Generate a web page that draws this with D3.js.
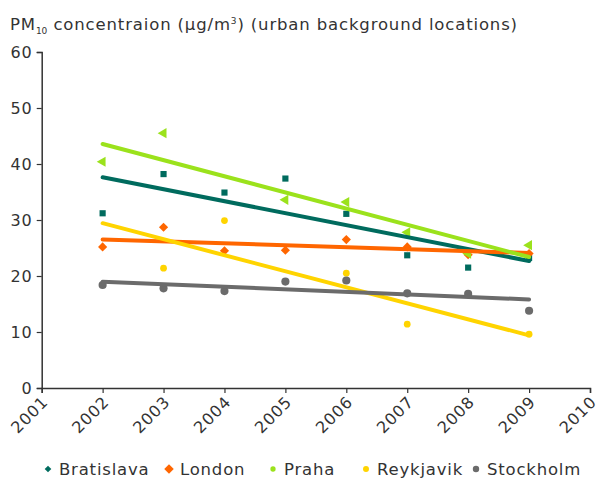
<!DOCTYPE html>
<html>
<head>
<meta charset="utf-8">
<script src="https://cdn.jsdelivr.net/npm/d3@7"></script>
<style>
  body { margin: 0; background: #fff; }
  text { font-family: "DejaVu Sans", Verdana, sans-serif; fill: #333; letter-spacing: 0.9px; }
</style>
</head>
<body>
<script>
// data (null = no value plotted)
const years = [2002, 2003, 2004, 2005, 2006, 2007, 2008, 2009];
const axisYears = [2001, 2002, 2003, 2004, 2005, 2006, 2007, 2008, 2009, 2010];
const yTicks = [0, 10, 20, 30, 40, 50, 60];
const cities = ["Bratislava", "London", "Praha", "Reykjavik", "Stockholm"];
const bratislava = [31.2, 38.2, 34.9, 37.4, 31.1, 23.7, 21.5, 23.2];
const london = [25.2, 28.7, 24.5, 24.6, 26.5, 25.2, 23.8, 24.0];
const praha = [40.4, 45.5, null, 33.6, 33.2, 27.8, 24.0, 25.5];
const reykjavik = [null, 21.4, 29.9, null, 20.5, 11.4, null, 9.6];
const stockholm = [18.4, 17.8, 17.3, 19.0, 19.2, 16.9, 16.8, 13.8];
const colors = ["#006b5e", "#ff6600", "#9be21c", "#ffd400", "#6b6b6b"];

const seriesValues = [bratislava, london, praha, reykjavik, stockholm];

const width = 599;
const height = 482;

const svg = d3.select("body").append("svg")
  .attr("width", width)
  .attr("height", height);

const x = d3.scaleLinear().domain([2001, 2010]).range([41.7, 590]);
const y = d3.scaleLinear().domain([0, 60]).range([388, 52]);

// title
const title = svg.append("text").attr("x", 10).attr("y", 30)
  .style("font-size", "16.5px").style("letter-spacing", "0.85px");
title.append("tspan").text("PM");
title.append("tspan").attr("dy", 4).style("font-size", "9px").style("letter-spacing", "0px").text("10");
title.append("tspan").attr("dy", -4).text(" concentraion (µg/m");
title.append("tspan").attr("dy", -6).style("font-size", "9px").text("3");
title.append("tspan").attr("dy", 6).text(") (urban background locations)");

// axes
const yAxis = svg.append("g")
  .attr("transform", `translate(${x(2001)},0)`)
  .call(d3.axisLeft(y).tickValues(yTicks).tickSize(5).tickPadding(4));

const xAxis = svg.append("g")
  .attr("transform", `translate(0,${y(0)})`)
  .call(d3.axisBottom(x).tickValues(axisYears).tickFormat(d3.format("d")).tickSize(5));

[yAxis, xAxis].forEach(g => {
  g.select(".domain").attr("stroke", "#333").attr("stroke-width", 1.5);
  g.selectAll(".tick line").attr("stroke", "#333").attr("stroke-width", 1.2);
  g.selectAll("text").style("font-size", "16px").attr("fill", "#333")
    .style("font-family", "'DejaVu Sans', Verdana, sans-serif");
});

xAxis.selectAll(".tick text")
  .attr("text-anchor", "end")
  .attr("dy", null)
  .attr("y", null)
  .attr("transform", "translate(7,15) rotate(-45)");

// markers
const shapes = [
  { type: d3.symbolSquare, size: 38, rot: 0 },
  { type: d3.symbolSquare, size: 42, rot: 45 },
  { type: d3.symbolTriangle, size: 45, rot: -90 },
  { type: d3.symbolCircle, size: 36, rot: 0 },
  { type: d3.symbolCircle, size: 52, rot: 0 }
];

seriesValues.forEach((vals, i) => {
  const pts = years.map((yr, j) => ({ yr, v: vals[j] })).filter(d => d.v != null);
  svg.append("g").selectAll("path")
    .data(pts)
    .join("path")
    .attr("d", d3.symbol().type(shapes[i].type).size(shapes[i].size))
    .attr("transform", d => `translate(${x(d.yr)},${y(d.v)}) rotate(${shapes[i].rot})`)
    .attr("fill", colors[i]);
});

// linear trend lines over 2002-2009
seriesValues.forEach((vals, i) => {
  const pts = years.map((yr, j) => [yr, vals[j]]).filter(d => d[1] != null);
  const mx = d3.mean(pts, d => d[0]);
  const my = d3.mean(pts, d => d[1]);
  const slope = d3.sum(pts, d => (d[0] - mx) * (d[1] - my)) / d3.sum(pts, d => (d[0] - mx) ** 2);
  const ends = [years[0], years[years.length - 1]].map(yr => [yr, my + slope * (yr - mx)]);
  svg.append("path")
    .datum(ends)
    .attr("d", d3.line().x(d => x(d[0])).y(d => y(d[1])))
    .attr("stroke", colors[i])
    .attr("stroke-width", 4)
    .attr("stroke-linecap", "round")
    .attr("fill", "none");
});

// legend
const legendX = [48, 169, 273, 366, 476];
const legendShapes = [
  { type: d3.symbolSquare, size: 22, rot: 45 },
  { type: d3.symbolSquare, size: 45, rot: 45 },
  { type: d3.symbolCircle, size: 22, rot: 0 },
  { type: d3.symbolCircle, size: 28, rot: 0 },
  { type: d3.symbolCircle, size: 32, rot: 0 }
];
const legend = svg.append("g").selectAll("g")
  .data(cities)
  .join("g")
  .attr("transform", (d, i) => `translate(${legendX[i]},469)`);

legend.append("path")
  .attr("d", (d, i) => d3.symbol().type(legendShapes[i].type).size(legendShapes[i].size)())
  .attr("transform", (d, i) => `rotate(${legendShapes[i].rot})`)
  .attr("fill", (d, i) => colors[i]);

legend.append("text")
  .attr("x", 11)
  .attr("y", 6)
  .style("font-size", "16.5px")
  .style("letter-spacing", "0.8px")
  .text(d => d);
</script>
</body>
</html>
